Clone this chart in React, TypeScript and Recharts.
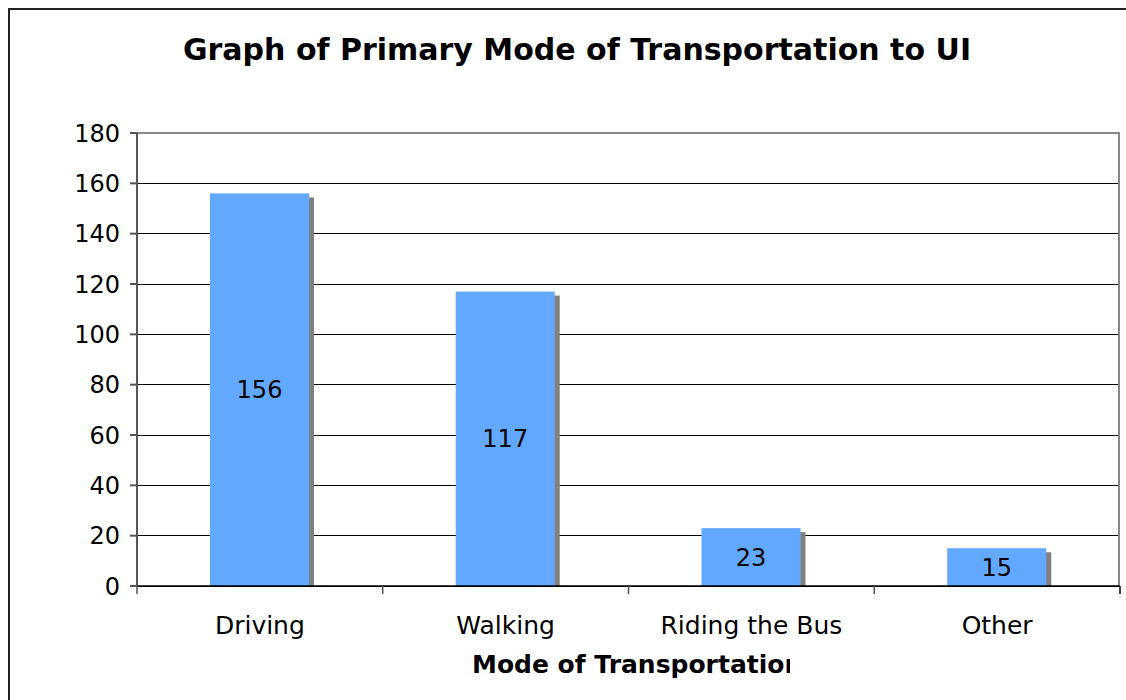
import { BarChart, Bar, XAxis, YAxis, CartesianGrid, ReferenceLine, LabelList } from 'recharts';

const categories = ['Driving', 'Walking', 'Riding the Bus', 'Other'];
const counts = [156, 117, 23, 15];
const yTicks = [0, 20, 40, 60, 80, 100, 120, 140, 160, 180];

const chartData = categories.map((name, i) => ({ name, value: counts[i] }));

const PLOT_LEFT = 137;
const PLOT_RIGHT = 1120;
const BAND = (PLOT_RIGHT - PLOT_LEFT) / categories.length;
const FONT = '"DejaVu Sans", Verdana, sans-serif';

const ShadowBar = (props: any) => {
  const { x, y, width, height } = props;
  if (!height) return null;
  return (
    <g>
      <rect x={x + 5} y={y + 4} width={width} height={Math.max(height - 4, 0)} fill="#808080" />
      <rect x={x} y={y} width={width} height={height} fill="#62A8FF" />
    </g>
  );
};

// label at band centre, tick marks on the band edges (between categories)
const CategoryTick = (props: any) => {
  const { x, y, payload, index, visibleTicksCount } = props;
  const left = x - BAND / 2;
  return (
    <g>
      <line x1={left} y1={y - 8} x2={left} y2={y} stroke="#555" strokeWidth={1.5} />
      {index === visibleTicksCount - 1 && (
        <line x1={x + BAND / 2} y1={y - 8} x2={x + BAND / 2} y2={y} stroke="#000" strokeWidth={1.5} />
      )}
      <text x={x} y={y + 40} textAnchor="middle" fontSize={25} fontFamily={FONT} fill="#000">
        {payload.value}
      </text>
    </g>
  );
};

export default function App() {
  return (
    <div style={{ position: 'absolute', left: 0, top: 0, width: 1126, height: 700, overflow: 'hidden', background: '#fff' }}>
      <style>{`.recharts-cartesian-grid line { shape-rendering: crispEdges; }`}</style>
      <div style={{ position: 'absolute', left: 8, top: 8, width: 1300, height: 900, border: '2px solid #222' }} />
      <div
        style={{
          position: 'absolute', left: 0, top: 32, width: 1154, textAlign: 'center',
          fontFamily: FONT, fontWeight: 'bold', fontSize: 30, color: '#000', lineHeight: '36px',
        }}
      >
        Graph of Primary Mode of Transportation to UI
      </div>
      <div style={{ position: 'absolute', left: 0, top: 0 }}>
        <BarChart
          width={1126}
          height={700}
          data={chartData}
          margin={{ top: 133, right: 1126 - PLOT_RIGHT, bottom: 84, left: 0 }}
          barSize={99}
        >
          <CartesianGrid horizontal vertical={false} stroke="#000" strokeWidth={1} />
          <CartesianGrid horizontal={false} verticalPoints={[PLOT_RIGHT - 1]} stroke="#888" strokeWidth={2} />
          <ReferenceLine y={180} stroke="#888" strokeWidth={2} />
          <XAxis
            dataKey="name"
            stroke="#000"
            strokeWidth={1.5}
            tickLine={false}
            tick={<CategoryTick />}
            interval={0}
          />
          <YAxis
            width={PLOT_LEFT}
            domain={[0, 180]}
            ticks={yTicks}
            interval={0}
            stroke="#555"
            strokeWidth={2}
            tickSize={7}
            tickMargin={10}
            tick={{ fontSize: 24, fontFamily: FONT, fill: '#000' }}
          />
          <Bar dataKey="value" shape={<ShadowBar />} isAnimationActive={false}>
            <LabelList dataKey="value" position="center" fontSize={24} fontFamily={FONT} fill="#000" />
          </Bar>
        </BarChart>
      </div>
      <div
        style={{
          position: 'absolute', left: 472, top: 650, width: 318, overflow: 'hidden', whiteSpace: 'nowrap',
          fontFamily: FONT, fontWeight: 'bold', fontSize: 25, color: '#000', lineHeight: '30px',
        }}
      >
        Mode of Transportation
      </div>
    </div>
  );
}
